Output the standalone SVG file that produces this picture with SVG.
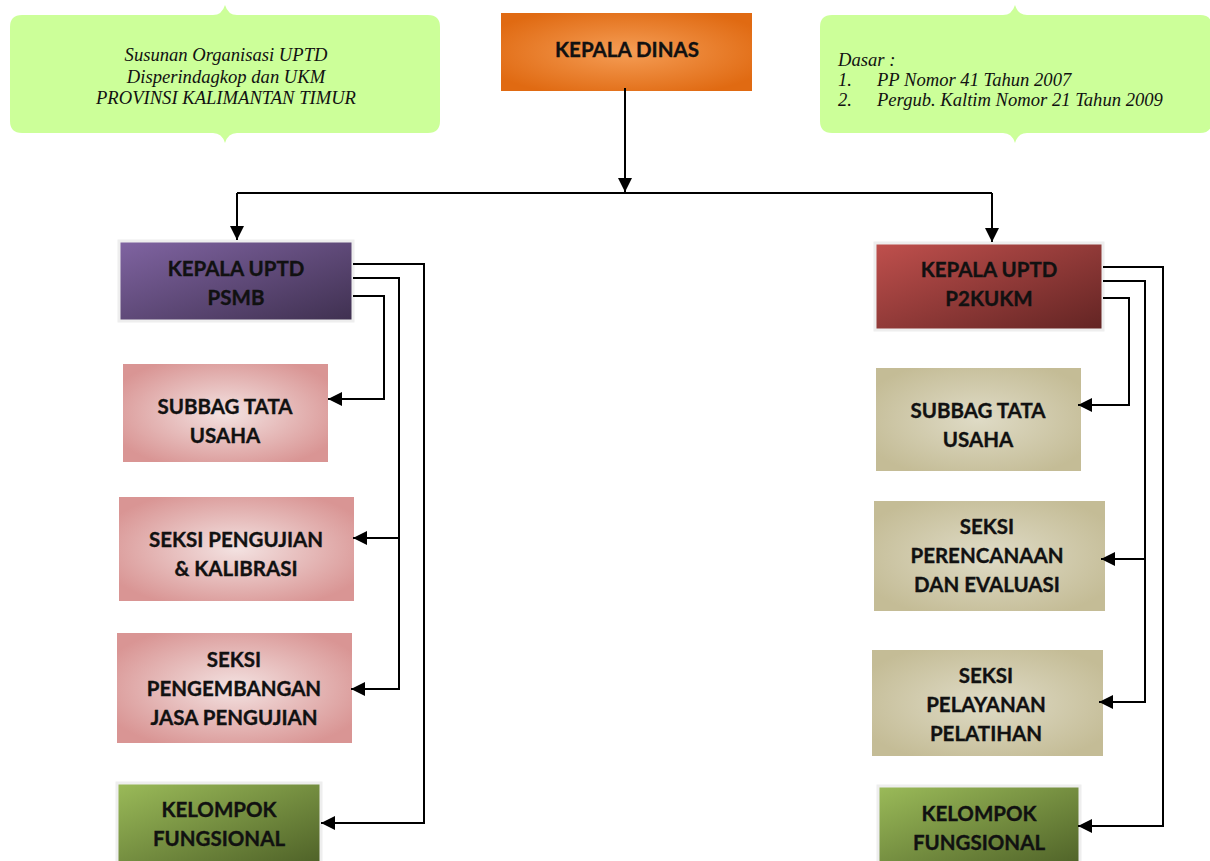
<svg xmlns="http://www.w3.org/2000/svg" width="1210" height="861" viewBox="0 0 1210 861">
<style>
.t{font-family:Lato,"Open Sans","Liberation Sans",sans-serif;font-weight:bold;font-size:20.5px;fill:#111;stroke:#111;stroke-width:0.35;text-anchor:middle}
.c{font-family:"Liberation Serif","DejaVu Serif",serif;font-style:italic;font-size:18.6px;fill:#111}
.ln{fill:none;stroke:#000;stroke-width:2}
.call{fill:#CCFF99}
.frame{stroke:#eeeeee;stroke-width:3}
</style>
<defs>
<radialGradient id="gOrange" cx="50%" cy="50%" r="60%"><stop offset="0" stop-color="#F59D55"/><stop offset="1" stop-color="#E06A12"/></radialGradient>
<radialGradient id="gPink" cx="50%" cy="50%" r="60%"><stop offset="0" stop-color="#F3E2E1"/><stop offset="1" stop-color="#D99594"/></radialGradient>
<radialGradient id="gTan" cx="50%" cy="50%" r="60%"><stop offset="0" stop-color="#DFDBC6"/><stop offset="1" stop-color="#C4BC96"/></radialGradient>
<linearGradient id="gPurple" x1="0" y1="0" x2="1" y2="1"><stop offset="0" stop-color="#8064A2"/><stop offset="1" stop-color="#3F3050"/></linearGradient>
<linearGradient id="gRed" x1="0" y1="0" x2="1" y2="1"><stop offset="0" stop-color="#C0504D"/><stop offset="1" stop-color="#622423"/></linearGradient>
<linearGradient id="gGreen" x1="0" y1="0" x2="1" y2="1"><stop offset="0" stop-color="#9BBB59"/><stop offset="1" stop-color="#4F6228"/></linearGradient>
<marker id="ah" viewBox="0 0 10 10" refX="10" refY="5" markerWidth="7" markerHeight="7" markerUnits="strokeWidth" orient="auto"><path d="M0,0 L10,5 L0,10 Z" fill="#000"/></marker>
</defs>

<g id="callout-left">
<path class="call" d="M22,15 H213 Q222,15 225,5 Q228,15 237,15 H428 Q440,15 440,27 V121 Q440,133 428,133 H237 Q228,133 225,143 Q222,133 213,133 H22 Q10,133 10,121 V27 Q10,15 22,15 Z"/>
<text class="c" text-anchor="middle" x="226" y="61">Susunan Organisasi UPTD</text>
<text class="c" text-anchor="middle" x="226" y="83">Disperindagkop dan UKM</text>
<text class="c" text-anchor="middle" x="226" y="104">PROVINSI KALIMANTAN TIMUR</text>
</g>

<g id="callout-right">
<path class="call" d="M832,15 H1003 Q1012,15 1015,5 Q1018,15 1027,15 H1200 Q1212,15 1212,27 V121 Q1212,133 1200,133 H1027 Q1018,133 1015,143 Q1012,133 1003,133 H832 Q820,133 820,121 V27 Q820,15 832,15 Z"/>
<text class="c" x="838" y="66">Dasar :</text>
<text class="c" x="838" y="86">1.</text>
<text class="c" x="877" y="86">PP Nomor 41 Tahun 2007</text>
<text class="c" x="838" y="106">2.</text>
<text class="c" x="877" y="106">Pergub. Kaltim Nomor 21 Tahun 2009</text>
</g>

<g id="kepala-dinas">
<rect x="501" y="13" width="251" height="78" fill="url(#gOrange)"/>
<text class="t" x="627" y="57">KEPALA DINAS</text>
</g>

<g id="kepala-psmb">
<rect class="frame" x="119" y="241" width="234" height="80" fill="url(#gPurple)"/>
<text class="t" x="236" y="276">KEPALA UPTD</text>
<text class="t" x="236" y="305">PSMB</text>
</g>
<g id="subbag-psmb">
<rect x="123" y="364" width="205" height="98" fill="url(#gPink)"/>
<text class="t" x="225" y="414">SUBBAG TATA</text>
<text class="t" x="225" y="443">USAHA</text>
</g>
<g id="seksi-pengujian">
<rect x="119" y="497" width="235" height="104" fill="url(#gPink)"/>
<text class="t" x="236" y="547">SEKSI PENGUJIAN</text>
<text class="t" x="236" y="576">&amp; KALIBRASI</text>
</g>
<g id="seksi-pengembangan">
<rect x="117" y="633" width="235" height="110" fill="url(#gPink)"/>
<text class="t" x="234" y="667">SEKSI</text>
<text class="t" x="234" y="696">PENGEMBANGAN</text>
<text class="t" x="234" y="725">JASA PENGUJIAN</text>
</g>
<g id="kelompok-left">
<rect class="frame" x="117" y="783" width="204" height="80" fill="url(#gGreen)"/>
<text class="t" x="219" y="817">KELOMPOK</text>
<text class="t" x="219" y="846">FUNGSIONAL</text>
</g>

<g id="kepala-p2kukm">
<rect class="frame" x="875" y="243" width="228" height="87" fill="url(#gRed)"/>
<text class="t" x="989" y="277">KEPALA UPTD</text>
<text class="t" x="989" y="306">P2KUKM</text>
</g>
<g id="subbag-p2kukm">
<rect x="876" y="368" width="205" height="103" fill="url(#gTan)"/>
<text class="t" x="978" y="418">SUBBAG TATA</text>
<text class="t" x="978" y="447">USAHA</text>
</g>
<g id="seksi-perencanaan">
<rect x="874" y="501" width="231" height="110" fill="url(#gTan)"/>
<text class="t" x="987" y="534">SEKSI</text>
<text class="t" x="987" y="563">PERENCANAAN</text>
<text class="t" x="987" y="592">DAN EVALUASI</text>
</g>
<g id="seksi-pelayanan">
<rect x="872" y="650" width="231" height="106" fill="url(#gTan)"/>
<text class="t" x="986" y="683">SEKSI</text>
<text class="t" x="986" y="712">PELAYANAN</text>
<text class="t" x="986" y="741">PELATIHAN</text>
</g>
<g id="kelompok-right">
<rect class="frame" x="878" y="786" width="202" height="80" fill="url(#gGreen)"/>
<text class="t" x="979" y="821">KELOMPOK</text>
<text class="t" x="979" y="850">FUNGSIONAL</text>
</g>

<g id="connectors">
<path class="ln" d="M625,88 V192" marker-end="url(#ah)"/>
<path class="ln" d="M237,193 H992"/>
<path class="ln" d="M237,193 V240" marker-end="url(#ah)"/>
<path class="ln" d="M992,193 V242" marker-end="url(#ah)"/>

<path class="ln" d="M353,264 H424 V823 H321" marker-end="url(#ah)"/>
<path class="ln" d="M353,278 H399 V689 H351" marker-end="url(#ah)"/>
<path class="ln" d="M399,538 H353" marker-end="url(#ah)"/>
<path class="ln" d="M353,296 H384 V399 H328" marker-end="url(#ah)"/>

<path class="ln" d="M1103,267 H1163 V826 H1078" marker-end="url(#ah)"/>
<path class="ln" d="M1103,281 H1145 V702 H1099" marker-end="url(#ah)"/>
<path class="ln" d="M1145,559 H1101" marker-end="url(#ah)"/>
<path class="ln" d="M1103,298 H1129 V405 H1078" marker-end="url(#ah)"/>
</g>
</svg>
